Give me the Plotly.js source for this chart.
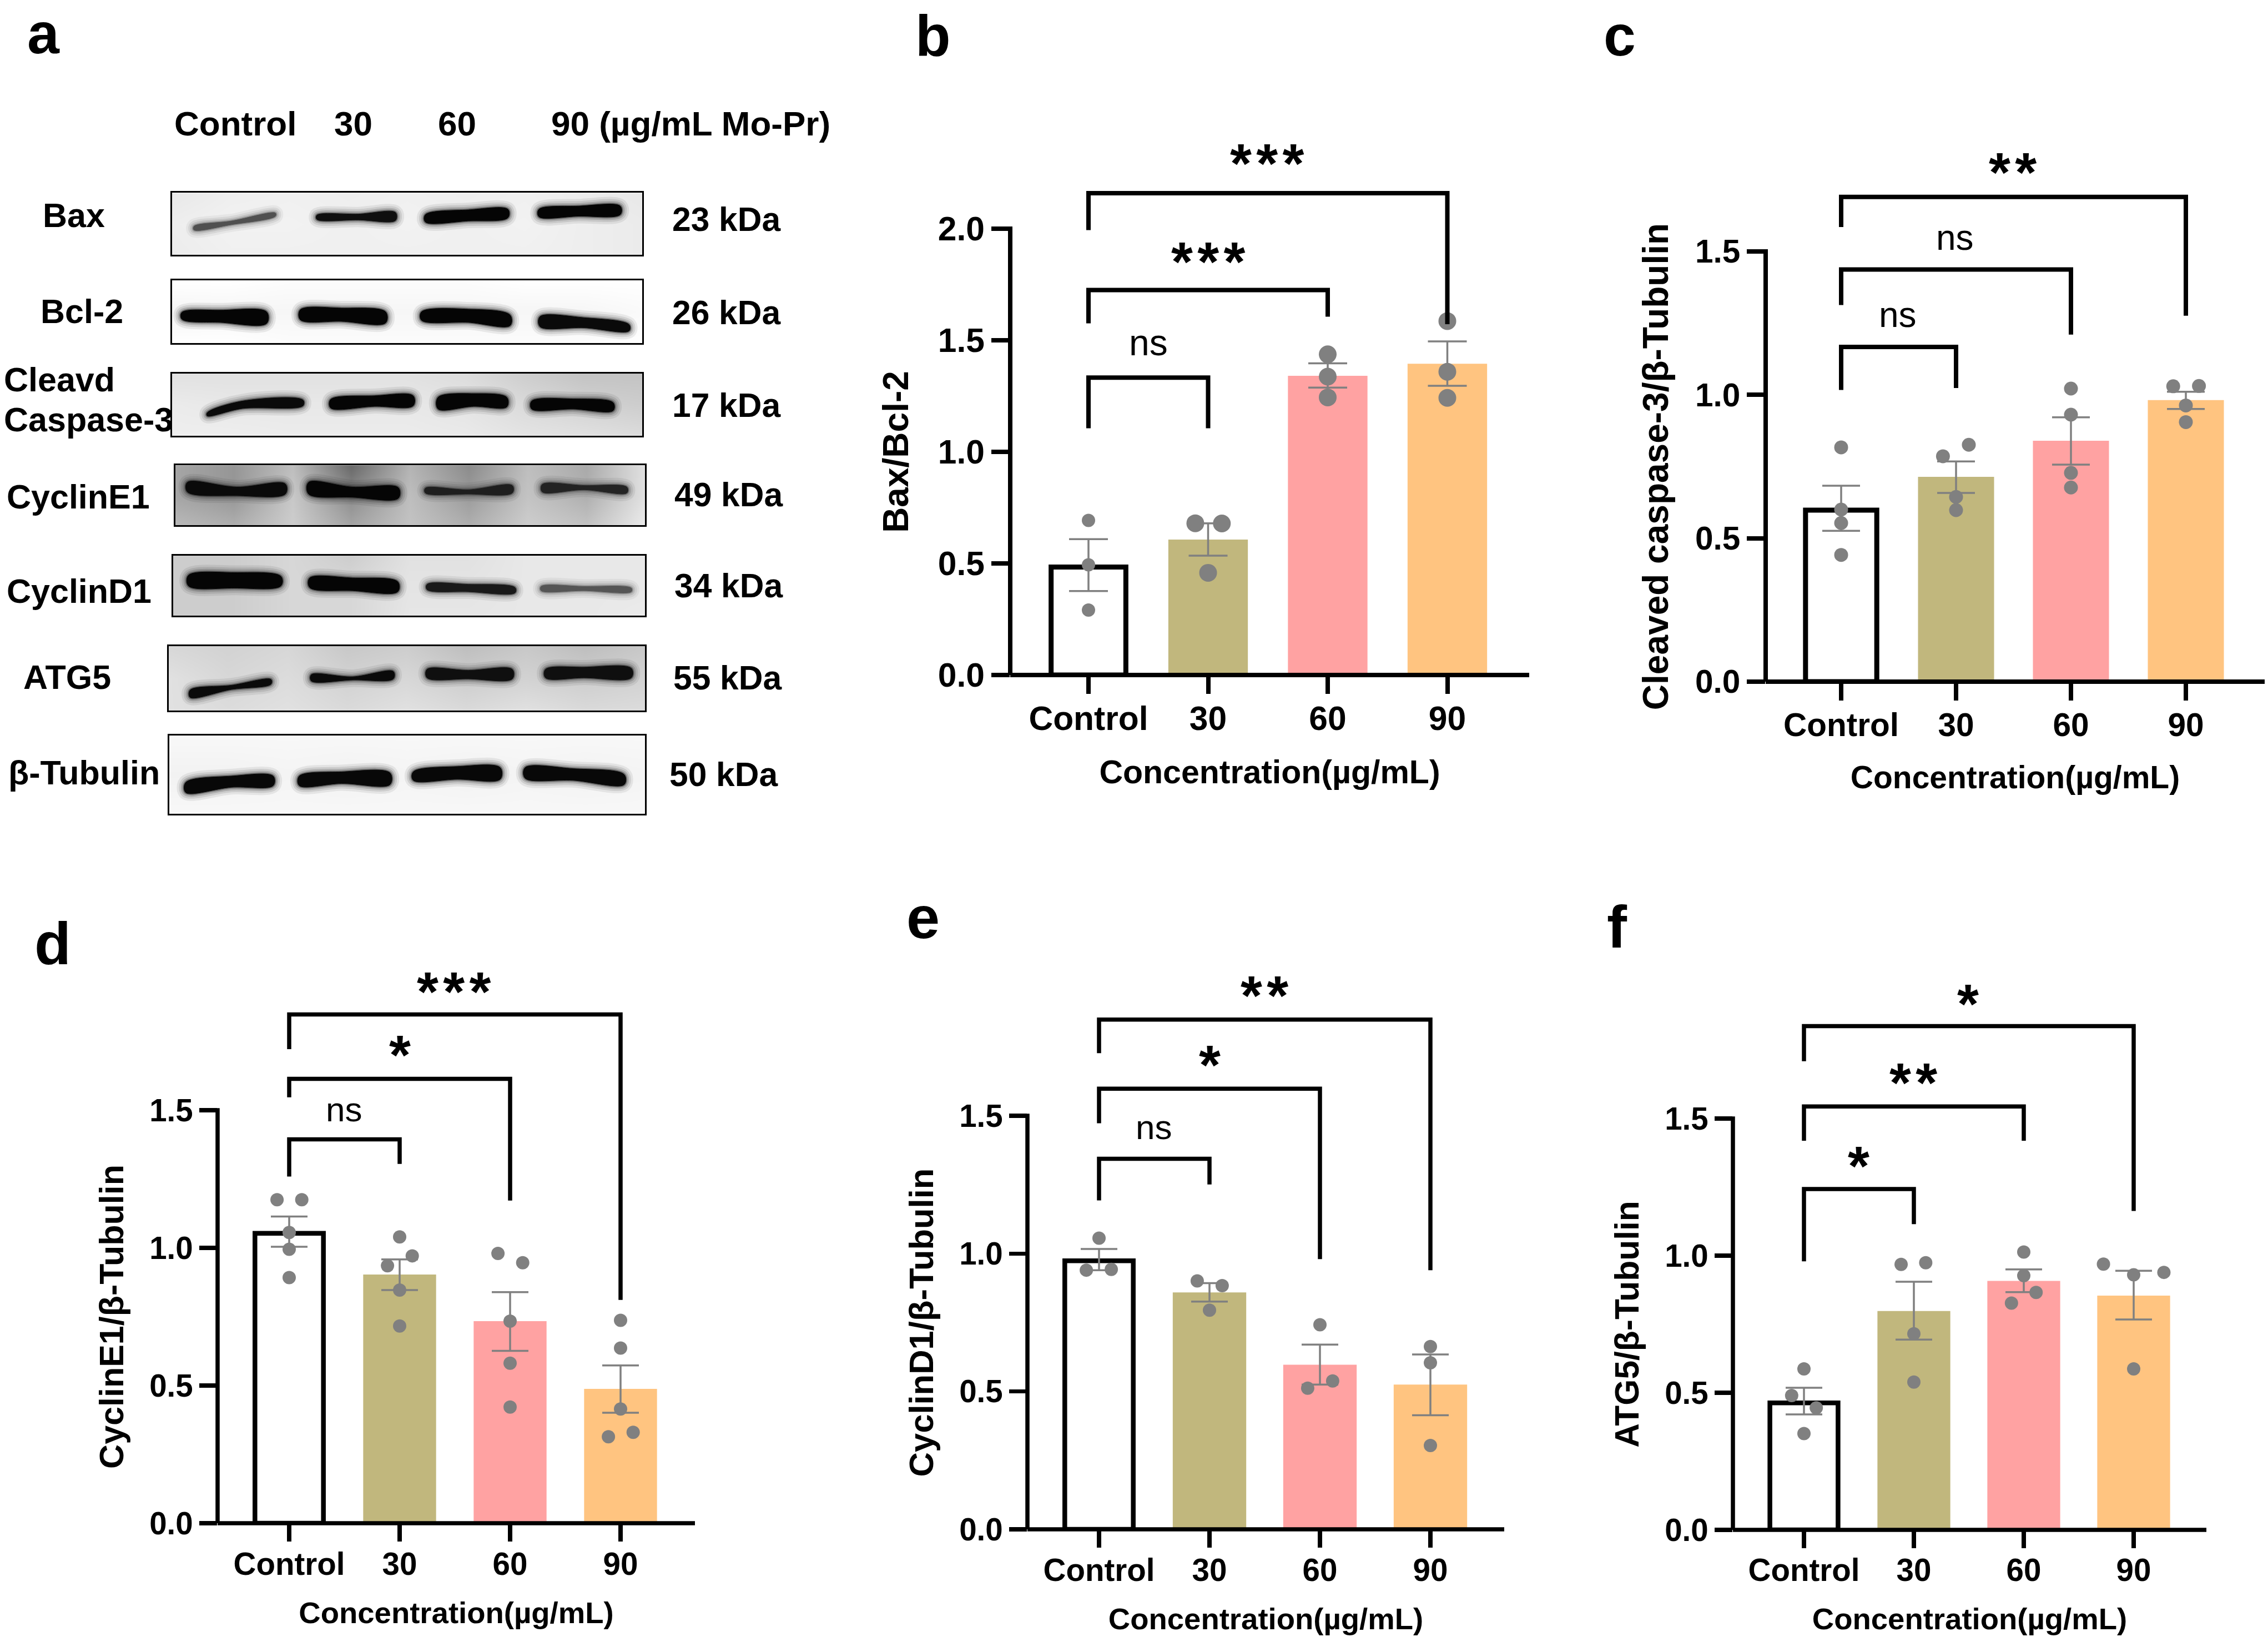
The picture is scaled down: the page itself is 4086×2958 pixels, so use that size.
<!DOCTYPE html>
<html><head><meta charset="utf-8">
<script src="https://cdn.plot.ly/plotly-3.0.1.min.js"></script>
<style>html,body{margin:0;padding:0;background:#fff}#chart{width:4086px;height:2958px}</style>
</head><body><div id="chart"></div>
<script>
const categories = ['Control','30','60','90'];
const xTickVals = [0,1,2,3];
const barColors = ['#ffffff','#C1B77D','#FFA2A2','#FFC480'];
const xTitle = 'Concentration(µg/mL)';

// panel b
const b_mean = [0.484,0.607,1.341,1.395];
const b_hi = [0.609,0.680,1.397,1.495];
const b_lo = [0.376,0.535,1.288,1.296];
const b_pts = [[0.693,0.494,0.291],[0.680,0.679,0.458],[1.437,1.337,1.244],[1.586,1.359,1.242]];
const b_off = [[0,0,0],[-0.107,0.115,0],[0,0,0],[0,0,0]];
const b_ticks = [0,0.5,1,1.5,2];
const b_br = [[0,1,1.106,1.333,1.106],[0,2,1.576,1.725,1.606],[0,3,1.994,2.159,1.572]];
const b_sig = ['ns','***','***'];
const b_sigX = [0.5,1.004,1.496];
const b_sigY = [1.489,1.887,2.328];

// panel c
const c_mean = [0.598,0.714,0.840,0.982];
const c_hi = [0.683,0.768,0.922,1.011];
const c_lo = [0.526,0.658,0.757,0.951];
const c_pts = [[0.817,0.600,0.553,0.442],[0.826,0.786,0.644,0.598],[1.022,0.931,0.728,0.677],[1.030,1.031,0.963,0.905]];
const c_off = [[0,0,0,0],[0.111,-0.114,0,0],[0,0,0,0],[-0.11,0.114,0,0]];
const c_ticks = [0,0.5,1,1.5];
const c_br = [[0,1,1.017,1.167,1.024],[0,2,1.313,1.437,1.21],[0,3,1.585,1.69,1.276]];
const c_sig = ['ns','ns','**'];
const c_sigX = [0.494,0.99,1.494];
const c_sigY = [1.279,1.549,1.804];

// panel d
const d_mean = [1.053,0.903,0.734,0.488];
const d_hi = [1.114,0.958,0.839,0.573];
const d_lo = [1.004,0.847,0.626,0.401];
const d_pts = [[1.175,1.175,1.056,0.995,0.892],[1.04,0.971,0.935,0.847,0.716],[0.98,0.946,0.734,0.581,0.422],[0.737,0.636,0.415,0.33,0.314]];
const d_off = [[-0.11,0.114,0,0,0],[0,0.114,-0.11,0,0],[-0.11,0.114,0,0,0],[0,0,0,0.114,-0.11]];
const d_ticks = [0,0.5,1,1.5];
const d_br = [[0,1,1.259,1.394,1.305],[0,2,1.547,1.614,1.172],[0,3,1.722,1.848,0.811]];
const d_sig = ['ns','*','***'];
const d_sigX = [0.494,1.0,1.494];
const d_sigY = [1.503,1.729,1.96];

// panel e
const e_mean = [0.974,0.859,0.597,0.525];
const e_hi = [1.017,0.893,0.67,0.634];
const e_lo = [0.94,0.826,0.525,0.414];
const e_pts = [[1.056,0.94,0.943],[0.901,0.884,0.795],[0.742,0.538,0.512],[0.663,0.604,0.304]];
const e_off = [[0,-0.115,0.111],[-0.111,0.115,0],[0,0.115,-0.111],[0,0,0]];
const e_ticks = [0,0.5,1,1.5];
const e_br = [[0,1,1.193,1.344,1.251],[0,2,1.473,1.598,0.98],[0,3,1.727,1.849,0.94]];
const e_sig = ['ns','*','**'];
const e_sigX = [0.496,1.0,1.498];
const e_sigY = [1.458,1.713,1.965];

// panel f
const f_mean = [0.463,0.798,0.908,0.854];
const f_hi = [0.518,0.905,0.95,0.945];
const f_lo = [0.421,0.694,0.867,0.767];
const f_pts = [[0.587,0.49,0.445,0.351],[0.974,0.968,0.715,0.539],[1.013,0.927,0.866,0.827],[0.969,0.939,0.93,0.587]];
const f_off = [[0,-0.112,0.112,0],[0.108,-0.116,0,0],[0,0,0.112,-0.112],[-0.275,0.275,0,0]];
const f_ticks = [0,0.5,1,1.5];
const f_br = [[0,1,0.979,1.243,1.115],[0,2,1.419,1.544,1.419],[0,3,1.709,1.837,1.163]];
const f_sig = ['*','**','*'];
const f_sigX = [0.497,0.997,1.494];
const f_sigY = [1.356,1.659,1.947];

// western blots: [xStart,xMid,xEnd, top at each, bottom at each], ink grey level and background grey levels
const rowLabels = ['Bax','Bcl-2','Cleavd','Caspase-3','CyclinE1','CyclinD1','ATG5','β-Tubulin'];
const kdaLabels = ['23 kDa','26 kDa','17 kDa','49 kDa','34 kDa','55 kDa','50 kDa'];
const laneLabels = ['Control','30','60','90 (µg/mL Mo-Pr)'];

const bax_bands = [[352,420,500,426,416,401,433,423,407],[575,650,718,405,403,400,413,414,415],[772,850,922,404,395,394,418,416,410],[978,1050,1126,394,388,388,408,407,404]];
const bax_ink = [80,15,5,5];
const bax_bg = [[232,238,240,238,240,238,240,236,232],[238,242,242,240,242,240,242,238,235],[236,240,240,240,240,240,240,238,235]];
const bcl_bands = [[330,400,484,588,584,587,601,607,609],[545,620,700,583,580,587,602,605,608],[765,850,926,587,582,593,603,607,613],[980,1060,1142,596,598,611,615,617,623]];
const bcl_ink = [5,5,5,10];
const bcl_bg = [[255,255,252,252,252,252,255,255,255],[245,246,246,246,246,246,246,246,250],[255,255,252,252,252,252,252,252,255]];
const cas_bands = [[376,440,550,777,755,753,783,769,764],[600,680,750,752,745,745,768,765,764],[795,860,920,748,741,748,770,765,766],[965,1040,1113,755,751,758,770,770,773]];
const cas_ink = [10,5,5,5];
const cas_bg = [[225,225,225,225,225,220,205,195,195],[235,232,232,232,232,228,218,210,205],[238,238,236,236,236,234,228,225,220]];
const e1_bands = [[340,430,518,908,917,911,926,933,930],[560,640,723,908,917,918,930,936,938],[772,850,930,919,922,914,928,930,928],[984,1060,1138,912,914,917,926,922,928]];
const e1_ink = [10,5,30,35];
const e1_bg = [[165,150,190,105,180,140,190,170,225],[165,150,200,140,190,155,195,175,225],[185,175,205,165,195,175,205,195,235]];
const d1_bands = [[342,425,510,1083,1078,1085,1103,1107,1103],[562,640,722,1088,1088,1095,1106,1112,1114],[775,850,935,1100,1100,1106,1110,1114,1116],[982,1060,1146,1104,1104,1107,1112,1112,1114]];
const d1_ink = [5,5,25,85];
const d1_bg = [[205,205,215,205,225,225,232,232,232],[205,205,215,215,228,228,232,232,232],[205,205,215,215,230,230,232,232,235]];
const atg_bands = [[345,420,492,1299,1290,1279,1313,1298,1288],[565,640,714,1270,1274,1264,1282,1280,1278],[775,850,930,1260,1262,1260,1276,1278,1278],[990,1060,1146,1260,1256,1258,1276,1276,1276]];
const atg_ink = [10,10,15,15];
const atg_bg = [[215,210,215,200,205,190,200,190,200],[225,215,220,210,215,205,210,205,210],[225,220,225,218,225,218,225,218,220]];
const tub_bands = [[337,420,496,1473,1461,1461,1492,1482,1479],[543,620,708,1461,1453,1455,1479,1475,1477],[750,830,908,1453,1443,1445,1469,1467,1467],[953,1040,1133,1445,1447,1458,1465,1469,1477]];
const tub_ink = [8,8,8,8];
const tub_bg = [[248,248,248,248,248,248,248,248,248],[242,242,244,242,244,242,244,242,244],[248,248,248,248,248,248,248,248,248]];

const W = 4086, H = 2958;
const FONT = '"Liberation Sans", Arial, sans-serif';
const px = v => v / W, py = v => 1 - v / H;
const ax = v => px(v/1.0075), ay = v => py(v/1.045);

const panels = [
 {mean:b_mean,hi:b_hi,lo:b_lo,pts:b_pts,off:b_off,ticks:b_ticks,br:b_br,sig:b_sig,sigX:b_sigX,sigY:b_sigY,yTitle:'Bax/Bcl-2',
  left:1820,right:2755,y0:1216,yTop:412,topVal:2,tick0:1961,step:215.5,ext:200,lw:8,tick:33,ms:[24,32,32,32],tf:60.5,xtf:59,ytf:64,sf:66,star:100,cap:35,ebw:3.5,bw:0.665,cw:0.625,yStand:32,xStand:43,xts:-8},
 {mean:c_mean,hi:c_hi,lo:c_lo,pts:c_pts,off:c_off,ticks:c_ticks,br:c_br,sig:c_sig,sigX:c_sigX,sigY:c_sigY,yTitle:'Cleaved caspase-3/β-Tubulin',
  left:3181,right:4080,y0:1228,yTop:453,topVal:1.5,tick0:3317,step:207,ext:200,lw:8,tick:33,ms:[25,25,25,25],tf:58.5,xtf:57,ytf:64,sf:64,star:100,cap:34,ebw:3.5,bw:0.662,cw:0.62,yStand:27,xStand:42,xts:-6},
 {mean:d_mean,hi:d_hi,lo:d_lo,pts:d_pts,off:d_off,ticks:d_ticks,br:d_br,sig:d_sig,sigX:d_sigX,sigY:d_sigY,yTitle:'CyclinE1/β-Tubulin',
  left:392,right:1252,y0:2744,yTop:2000,topVal:1.5,tick0:521,step:199,ext:1650,lw:7.5,tick:32,ms:[24,24,24,24],tf:56.5,xtf:54.5,ytf:61,sf:62,star:100,cap:33,ebw:3.5,bw:0.66,cw:0.62,yStand:26,xStand:38,xts:-8},
 {mean:e_mean,hi:e_hi,lo:e_lo,pts:e_pts,off:e_off,ticks:e_ticks,br:e_br,sig:e_sig,sigX:e_sigX,sigY:e_sigY,yTitle:'CyclinD1/β-Tubulin',
  left:1851,right:2710,y0:2755,yTop:2010,topVal:1.5,tick0:1980,step:199,ext:1650,lw:7.5,tick:32,ms:[24,24,24,24],tf:56.5,xtf:54.5,ytf:61.5,sf:62,star:100,cap:33,ebw:3.5,bw:0.665,cw:0.62,yStand:26,xStand:38,xts:-8},
 {mean:f_mean,hi:f_hi,lo:f_lo,pts:f_pts,off:f_off,ticks:f_ticks,br:f_br,sig:f_sig,sigX:f_sigX,sigY:f_sigY,yTitle:'ATG5/β-Tubulin',
  left:3122,right:3975,y0:2756,yTop:2015,topVal:1.5,tick0:3250,step:198,ext:1650,lw:7.5,tick:32,ms:[24,24,24,24],tf:56.5,xtf:54.5,ytf:60.5,sf:62,star:100,cap:33,ebw:3.5,bw:0.663,cw:0.62,yStand:26,xStand:38,xts:-9}
];

const traces = [], shapes = [], annotations = [];
const layout = {width:W,height:H,margin:{l:0,r:0,t:0,b:0},paper_bgcolor:'#fff',plot_bgcolor:'rgba(0,0,0,0)',showlegend:false,
  font:{family:FONT,color:'#000'},bargap:0,shapes,annotations};

panels.forEach((p,i) => {
  const n = i+1, xa = 'xaxis'+(n===1?'':n), ya = 'yaxis'+(n===1?'':n), yb = 'yaxis'+(n+5);
  const xid = 'x'+(n===1?'':n), yid = 'y'+(n===1?'':n), bid = 'y'+(n+5);
  const perUnit = (p.y0-p.yTop)/p.topVal;
  layout[xa] = {domain:[px(p.left),px(p.right)],range:[(p.left-p.tick0)/p.step,(p.right-p.tick0)/p.step],anchor:yid,
    tickmode:'array',tickvals:xTickVals,ticktext:categories,ticks:'outside',ticklen:p.tick,tickwidth:p.lw,tickcolor:'#000',ticklabelstandoff:p.xts,
    showline:false,showgrid:false,zeroline:false,tickfont:{family:FONT,size:p.tf,color:'#000',weight:700},
    title:{text:xTitle,font:{family:FONT,size:p.xtf,color:'#000',weight:700},standoff:p.xStand}};
  layout[ya] = {domain:[py(p.y0),py(p.yTop)],range:[0,p.topVal],anchor:xid,
    tickmode:'array',tickvals:p.ticks,tickformat:'.1f',ticks:'outside',ticklen:p.tick,tickwidth:p.lw,tickcolor:'#000',
    showline:false,showgrid:false,zeroline:false,tickfont:{family:FONT,size:p.tf,color:'#000',weight:700},
    title:{text:p.yTitle,font:{family:FONT,size:p.ytf,color:'#000',weight:700},standoff:p.yStand}};
  layout[yb] = {domain:[py(p.y0),py(p.ext)],range:[0,(p.y0-p.ext)/perUnit],anchor:xid,visible:false};
  shapes.push({type:'line',xref:xid+' domain',yref:'paper',x0:0,x1:0,y0:py(p.y0),y1:py(p.yTop-p.lw/2),line:{color:'#000',width:p.lw},layer:'above'});
  shapes.push({type:'line',xref:xid+' domain',yref:yid+' domain',x0:0,x1:1,y0:0,y1:0,line:{color:'#000',width:p.lw},layer:'above'});
  traces.push({type:'bar',x:xTickVals,y:p.mean,xaxis:xid,yaxis:yid,width:[p.cw,p.bw,p.bw,p.bw],hoverinfo:'skip',
    marker:{color:barColors,line:{color:'#000',width:[p.lw+1,0,0,0]}},
    error_y:{type:'data',symmetric:false,array:p.hi.map((v,k)=>v-p.mean[k]),arrayminus:p.lo.map((v,k)=>p.mean[k]-v),color:'#808080',thickness:p.ebw,width:p.cap}});
  p.pts.forEach((vals,k) => traces.push({type:'scatter',mode:'markers',xaxis:xid,yaxis:yid,hoverinfo:'skip',cliponaxis:false,
    x:vals.map((_,m)=>k+p.off[k][m]),y:vals,marker:{color:'#808080',size:p.ms[k],line:{width:0}}}));
  p.br.forEach((b,k) => {
    traces.push({type:'scatter',mode:'lines',xaxis:xid,yaxis:bid,hoverinfo:'skip',x:[b[0],b[0],b[1],b[1]],y:[b[2],b[3],b[3],b[4]],line:{color:'#000',width:p.lw}});
    const isNs = p.sig[k]==='ns';
    annotations.push({xref:xid,yref:bid,x:p.sigX[k],y:p.sigY[k],text:isNs?p.sig[k]:p.sig[k].split('').join('\u200a'),showarrow:false,xanchor:'center',yanchor:'middle',yshift:isNs?0:-14,
      font:isNs?{family:FONT,size:p.sf,color:'#000'}:{family:FONT,size:p.star,color:'#000',weight:700}});
  });
});

const blots = [
 {bands:bax_bands,ink:bax_ink,bg:bax_bg,l:312,r:1166,t:363,b:480},
 {bands:bcl_bands,ink:bcl_ink,bg:bcl_bg,l:312,r:1166,t:528,b:646},
 {bands:cas_bands,ink:cas_ink,bg:cas_bg,l:312,r:1166,t:703,b:820},
 {bands:e1_bands,ink:e1_ink,bg:e1_bg,l:318,r:1171,t:876,b:989},
 {bands:d1_bands,ink:d1_ink,bg:d1_bg,l:314,r:1171,t:1046,b:1159},
 {bands:atg_bands,ink:atg_ink,bg:atg_bg,l:306,r:1171,t:1216,b:1338},
 {bands:tub_bands,ink:tub_ink,bg:tub_bg,l:307,r:1171,t:1385,b:1532}
];
const halo = [[26,0.07],[18,0.10],[11,0.16],[5,0.35]];
blots.forEach((bl,i) => {
  const xn = i+6, yn = i+11, xa='xaxis'+xn, ya='yaxis'+yn, xid='x'+xn, yid='y'+yn;
  const hide = {showgrid:false,zeroline:false,showticklabels:false,ticks:'',showline:true,mirror:true,linecolor:'#000',linewidth:3};
  layout[xa] = Object.assign({domain:[ax(bl.l),ax(bl.r)],range:[bl.l,bl.r],anchor:yid},hide);
  layout[ya] = Object.assign({domain:[ay(bl.b),ay(bl.t)],range:[bl.b,bl.t],anchor:xid},hide);
  const cols = bl.bg[0].length;
  traces.push({type:'heatmap',xaxis:xid,yaxis:yid,hoverinfo:'skip',showscale:false,zsmooth:'best',zmin:0,zmax:255,
    colorscale:[[0,'#000'],[1,'#fff']],z:bl.bg,
    x:bl.bg[0].map((_,c)=>bl.l+c*(bl.r-bl.l)/(cols-1)),y:[bl.t,(bl.t+bl.b)/2,bl.b]});
  bl.bands.forEach((s,k) => {
    const g = bl.ink[k];
    const X = [s[0],s[1],s[2],s[2],s[1],s[0],s[0]], Y = [s[3],s[4],s[5],s[8],s[7],s[6],s[3]];
    halo.forEach(h => traces.push({type:'scatter',mode:'lines',xaxis:xid,yaxis:yid,hoverinfo:'skip',x:X,y:Y,
      line:{shape:'spline',smoothing:1,color:`rgba(${g},${g},${g},${h[1]})`,width:h[0]}}));
    traces.push({type:'scatter',mode:'lines',xaxis:xid,yaxis:yid,hoverinfo:'skip',fill:'toself',x:X,y:Y,
      fillcolor:`rgb(${g},${g},${g})`,line:{shape:'spline',smoothing:1,color:`rgb(${g},${g},${g})`,width:1}});
  });
});

const textAt = (txt,x,y,size) => annotations.push({xref:'paper',yref:'paper',x,y,text:txt,showarrow:false,xanchor:'left',yanchor:'middle',
  font:{family:FONT,size,color:'#000',weight:700}});
[314,604,793,998].forEach((x,i)=>textAt(laneLabels[i],ax(x),ay(232),62));
[[76,405],[72,586],[5,715],[5,790],[10,935],[10,1113],[40,1275],[13,1455]].forEach((q,i)=>textAt(rowLabels[i],ax(q[0]),ay(q[1]),61));
[[1218,413],[1218,588],[1218,763],[1222,931],[1222,1102],[1220,1276],[1213,1458]].forEach((q,i)=>textAt(kdaLabels[i],ax(q[0]),ay(q[1]),60.5));
[['a',47,60,104],['b',1647,64,104],['c',2887,64,104],['d',60,1699,108],['e',1631,1652,108],['f',2893,1670,108]].forEach(q=>textAt(q[0],px(q[1]),py(q[2]),q[3]));

Plotly.newPlot('chart',traces,layout,{displayModeBar:false,staticPlot:true});
</script></body></html>
